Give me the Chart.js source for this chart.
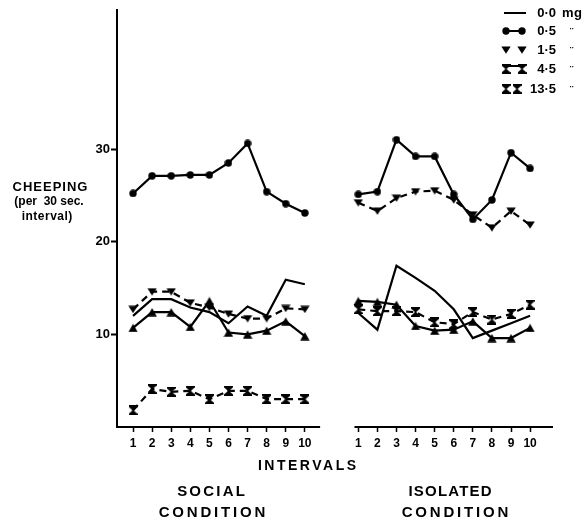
<!DOCTYPE html>
<html>
<head>
<meta charset="utf-8">
<script src="https://cdn.jsdelivr.net/npm/chart.js@4"></script>
<style>
  html, body { margin: 0; padding: 0; background: #fff; }
</style>
</head>
<body>
<canvas id="myChart" width="588" height="522"></canvas>
<script>
// intervals and values
var intervals = [1, 2, 3, 4, 5, 6, 7, 8, 9, 10];
var doses = ['0\u00b70', '0\u00b75', '1\u00b75', '4\u00b75', '13\u00b75'];
var yTicks = [10, 20, 30];

var social00  = [12.0, 13.8, 13.8, 12.9, 12.4, 11.2, 13.0, 12.0, 15.9, 15.4];
var social05  = [25.2, 27.1, 27.1, 27.2, 27.2, 28.5, 30.6, 25.4, 24.1, 23.1];
var social15  = [12.7, 14.6, 14.6, 13.4, 12.9, 12.2, 11.7, 11.7, 12.8, 12.7];
var social45  = [1.8, 4.1, 3.8, 3.9, 3.0, 3.9, 3.9, 3.0, 3.0, 3.0];
var social135 = [10.7, 12.4, 12.4, 10.8, 13.6, 10.2, 10.0, 10.4, 11.4, 9.8];

var iso00  = [12.3, 10.5, 17.4, 16.1, 14.7, 12.7, 9.6, 10.4, 11.2, 12.0];
var iso05  = [25.1, 25.4, 31.0, 29.2, 29.2, 25.1, 22.4, 24.5, 29.6, 27.9];
var iso15  = [24.2, 23.3, 24.7, 25.4, 25.5, 24.5, 22.9, 21.5, 23.3, 21.8];
var iso45  = [12.7, 12.5, 12.5, 12.4, 11.3, 11.1, 12.4, 11.6, 12.2, 13.2];
var iso135 = [13.6, 13.5, 13.2, 10.9, 10.4, 10.5, 11.4, 9.6, 9.6, 10.7];

// the isolated panel sits to the right of the social one on the same x scale
var isoOffset = 11.8;

function makeMarker(w, h, draw) {
  var c = document.createElement('canvas');
  c.width = w; c.height = h;
  var g = c.getContext('2d');
  g.fillStyle = '#000';
  g.beginPath();
  draw(g);
  g.fill();
  return c;
}
var dot = makeMarker(8, 8, function (g) { g.arc(4, 4, 3.7, 0, Math.PI * 2); });
var triUp = makeMarker(10, 9, function (g) {
  g.moveTo(5, 0.5); g.lineTo(9.7, 8.7); g.lineTo(0.3, 8.7); g.closePath();
});
var triDown = makeMarker(10, 8, function (g) {
  g.moveTo(0.3, 0.5); g.lineTo(9.7, 0.5); g.lineTo(5, 7.7); g.closePath();
});
var hourglass = makeMarker(9, 10, function (g) {
  g.moveTo(0, 0); g.lineTo(9, 0); g.lineTo(9, 1.5); g.lineTo(5.5, 4.5); g.lineTo(5.5, 5.5);
  g.lineTo(9, 8.5); g.lineTo(9, 10); g.lineTo(0, 10); g.lineTo(0, 8.5); g.lineTo(3.5, 5.5);
  g.lineTo(3.5, 4.5); g.lineTo(0, 1.5); g.closePath();
});

function series(soc, iso) {
  var pts = soc.map(function (v, i) { return { x: intervals[i], y: v }; });
  pts.push({ x: 11, y: null });
  return pts.concat(iso.map(function (v, i) { return { x: intervals[i] + isoOffset, y: v }; }));
}

function line(label, soc, iso, marker, dashed) {
  return {
    label: label,
    data: series(soc, iso),
    borderColor: '#000',
    backgroundColor: '#000',
    borderWidth: 2.2,
    borderDash: dashed ? [7, 5] : [],
    pointStyle: marker || 'circle',
    pointRadius: marker ? 4 : 0,
    pointHoverRadius: marker ? 4 : 0,
    spanGaps: false,
    tension: 0
  };
}

var xTicks = intervals.concat(intervals.map(function (i) { return i + isoOffset; }));

var data = {
  datasets: [
    line(doses[0], social00, iso00, null, false),
    line(doses[1], social05, iso05, dot, false),
    line(doses[2], social15, iso15, triDown, true),
    line(doses[3], social45, iso45, hourglass, true),
    line(doses[4], social135, iso135, triUp, false)
  ]
};

var boldFont = function (px) { return 'bold ' + px + 'px "Liberation Sans", Arial, sans-serif'; };

function spaced(ctx, text, x, y, px, spacing, align) {
  ctx.font = boldFont(px);
  ctx.letterSpacing = spacing + 'px';
  var w = ctx.measureText(text).width - spacing;
  var left = align === 'left' ? x : (align === 'right' ? x - w : x - w / 2);
  ctx.textAlign = 'left';
  ctx.fillText(text, left, y);
  ctx.letterSpacing = '0px';
}

var overlay = {
  id: 'overlay',
  afterDraw: function (chart) {
    var ctx = chart.ctx, xs = chart.scales.x, a = chart.chartArea;
    ctx.save();
    ctx.strokeStyle = '#000';
    ctx.fillStyle = '#000';
    ctx.lineWidth = 2;
    // broken x axis: one piece per condition
    ctx.beginPath();
    ctx.moveTo(a.left - 1, a.bottom);
    ctx.lineTo(xs.getPixelForValue(10.8), a.bottom);
    ctx.moveTo(xs.getPixelForValue(isoOffset + 0.8), a.bottom);
    ctx.lineTo(a.right, a.bottom);
    ctx.stroke();

    ctx.textBaseline = 'middle';
    // y title
    spaced(ctx, 'CHEEPING', 50, 187, 13, 1, 'center');
    spaced(ctx, '(per  30 sec.', 49, 202, 12, 0, 'center');
    spaced(ctx, 'interval)', 47, 217, 12, 0.5, 'center');
    // x titles
    spaced(ctx, 'INTERVALS', 307, 466, 14, 2.5, 'center');
    spaced(ctx, 'SOCIAL', 211, 492, 15, 2.2, 'center');
    spaced(ctx, 'CONDITION', 212, 513, 15, 2.8, 'center');
    spaced(ctx, 'ISOLATED', 450, 492, 15, 1.2, 'center');
    spaced(ctx, 'CONDITION', 455, 513, 15, 2.8, 'center');

    // legend
    var rows = [13, 31, 50, 69, 89];
    var m1 = 506, m2 = 522;
    ctx.lineWidth = 2;
    ctx.beginPath();
    ctx.moveTo(504, rows[0]); ctx.lineTo(526, rows[0]);
    ctx.moveTo(m1, rows[1]); ctx.lineTo(m2, rows[1]);
    ctx.moveTo(m1, rows[3] - 3); ctx.lineTo(m2, rows[3] - 3);
    ctx.stroke();
    var marks = [null, dot, triDown, hourglass, hourglass];
    for (var i = 1; i < 5; i++) {
      var mk = marks[i];
      var x2 = i === 4 ? 517 : m2;
      ctx.drawImage(mk, m1 - mk.width / 2, rows[i] - mk.height / 2);
      ctx.drawImage(mk, x2 - mk.width / 2, rows[i] - mk.height / 2);
    }
    for (var j = 0; j < 5; j++) {
      spaced(ctx, doses[j], 556, rows[j], 13, 0, 'right');
      if (j === 0) {
        spaced(ctx, 'mg', 562, rows[j], 13, 0.5, 'left');
      } else {
        spaced(ctx, '\u00a8', 570, rows[j] + 2, 10, 0, 'left');
      }
    }
    ctx.restore();
  }
};

var config = {
  type: 'line',
  data: data,
  options: {
    responsive: false,
    animation: false,
    events: [],
    layout: { padding: { left: 77, right: 35, top: 10, bottom: 0 } },
    plugins: { legend: { display: false }, tooltip: { enabled: false } },
    scales: {
      x: {
        type: 'linear',
        min: 0.16,
        max: 23,
        afterBuildTicks: function (scale) {
          scale.ticks = xTicks.map(function (v) { return { value: v }; });
        },
        afterFit: function (scale) { scale.height = 95; },
        border: { display: false },
        grid: { drawOnChartArea: false, drawTicks: true, tickLength: 5, tickWidth: 1.5, tickColor: '#000' },
        ticks: {
          autoSkip: false,
          maxRotation: 0,
          padding: 4,
          color: '#000',
          font: { family: '"Liberation Sans", Arial, sans-serif', size: 12, weight: 'bold' },
          callback: function (value) {
            return value > 11 ? Math.round(value - isoOffset) : Math.round(value);
          }
        }
      },
      y: {
        min: 0,
        max: 45,
        afterBuildTicks: function (scale) {
          scale.ticks = yTicks.map(function (v) { return { value: v }; });
        },
        afterFit: function (scale) { scale.width = 40; },
        border: { display: true, color: '#000', width: 2 },
        grid: { drawOnChartArea: false, drawTicks: true, tickLength: 6, tickWidth: 2, tickColor: '#000' },
        ticks: {
          padding: 1,
          color: '#000',
          font: { family: '"Liberation Sans", Arial, sans-serif', size: 13, weight: 'bold' }
        }
      }
    }
  },
  plugins: [overlay]
};

var myChart = new Chart(document.getElementById('myChart'), config);
</script>
</body>
</html>
